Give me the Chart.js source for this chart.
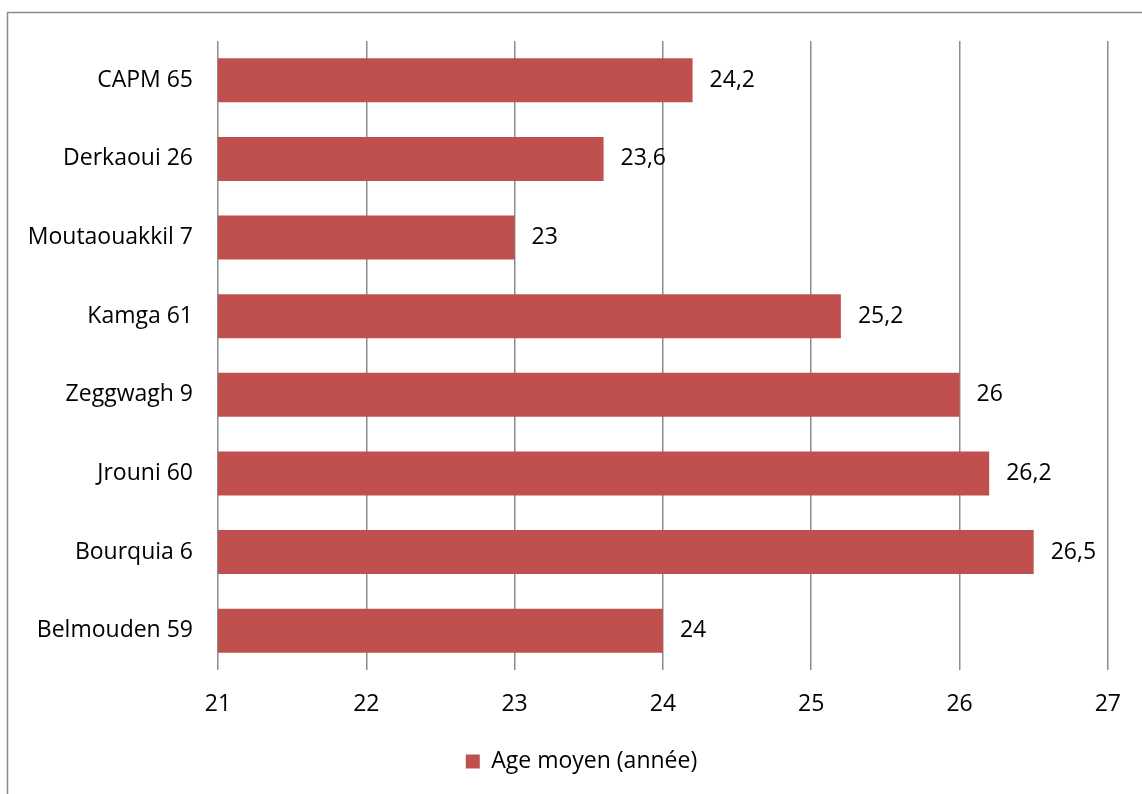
<!DOCTYPE html>
<html>
<head>
<meta charset="utf-8">
<script src="https://cdn.jsdelivr.net/npm/chart.js@4.4.1/dist/chart.umd.min.js"></script>
<style>
  html, body { margin: 0; padding: 0; background: #fff; }
  #wrap { width: 1142px; height: 794px; }
</style>
</head>
<body>
<div id="wrap"><canvas id="ageChart" width="1142" height="794"></canvas></div>
<script>
// Categories and mean age per group
const categories = ['CAPM 65', 'Derkaoui 26', 'Moutaouakkil 7', 'Kamga 61', 'Zeggwagh 9', 'Jrouni 60', 'Bourquia 6', 'Belmouden 59'];
const ageValues = [24.2, 23.6, 23, 25.2, 26, 26.2, 26.5, 24];
const xTicks = [21, 22, 23, 24, 25, 26, 27];

const barColor = '#C0504D';
const gridColor = '#8c8c8c';
const fontFamily = "'Open Sans', 'Liberation Sans', sans-serif";
const fontSize = 23;

// Value labels drawn just past the end of each bar (comma decimal)
const valueLabels = {
    id: 'valueLabels',
    afterDatasetsDraw(chart) {
        const ctx = chart.ctx;
        const meta = chart.getDatasetMeta(0);
        ctx.save();
        ctx.font = fontSize + 'px ' + fontFamily;
        ctx.fillStyle = '#000';
        ctx.textAlign = 'left';
        ctx.textBaseline = 'middle';
        meta.data.forEach((bar, i) => {
            const txt = String(ageValues[i]).replace('.', ',');
            ctx.fillText(txt, bar.x + 17, bar.y);
        });
        ctx.restore();
    }
};

// Outer frame around the chart
const frame = {
    id: 'frame',
    beforeDraw(chart) {
        const ctx = chart.ctx;
        ctx.save();
        ctx.strokeStyle = '#8a8a8a';
        ctx.lineWidth = 1.5;
        ctx.strokeRect(7.5, 12.5, chart.width + 20, chart.height + 20);
        ctx.restore();
    }
};

// Nudge the legend a little right, under the plot area
const legendShift = {
    id: 'legendShift',
    afterLayout(chart) {
        chart.legend.left += 27;
        chart.legend.right += 27;
    }
};

const config = {
    type: 'bar',
    data: {
        labels: categories,
        datasets: [{
            label: 'Age moyen (année)',
            data: ageValues,
            backgroundColor: barColor,
            borderWidth: 0,
            barPercentage: 0.56,
            categoryPercentage: 1.0
        }]
    },
    options: {
        indexAxis: 'y',
        responsive: false,
        animation: false,
        layout: { padding: { top: 41, right: 33, left: 0, bottom: 11 } },
        plugins: {
            legend: {
                display: true,
                position: 'bottom',
                labels: {
                    color: '#000',
                    boxWidth: 14,
                    boxHeight: 14,
                    padding: 22,
                    font: { family: fontFamily, size: fontSize }
                }
            },
            tooltip: { enabled: false }
        },
        scales: {
            x: {
                min: 21,
                max: 27,
                afterBuildTicks: s => { s.ticks = xTicks.map(v => ({ value: v })); },
                afterFit: s => { s.height = 58; },
                border: { display: false },
                grid: { color: gridColor, lineWidth: 1.5, drawTicks: false },
                ticks: {
                    color: '#000',
                    padding: 21,
                    font: { family: fontFamily, size: fontSize }
                }
            },
            y: {
                afterFit: s => { s.width = 218; },
                border: { display: false },
                grid: { display: false, drawTicks: false },
                ticks: {
                    color: '#000',
                    padding: 25,
                    font: { family: fontFamily, size: fontSize }
                }
            }
        }
    },
    plugins: [frame, valueLabels, legendShift]
};

window.onload = () => {
    const ctx = document.getElementById('ageChart').getContext('2d');
    new Chart(ctx, config);
};
</script>
</body>
</html>
